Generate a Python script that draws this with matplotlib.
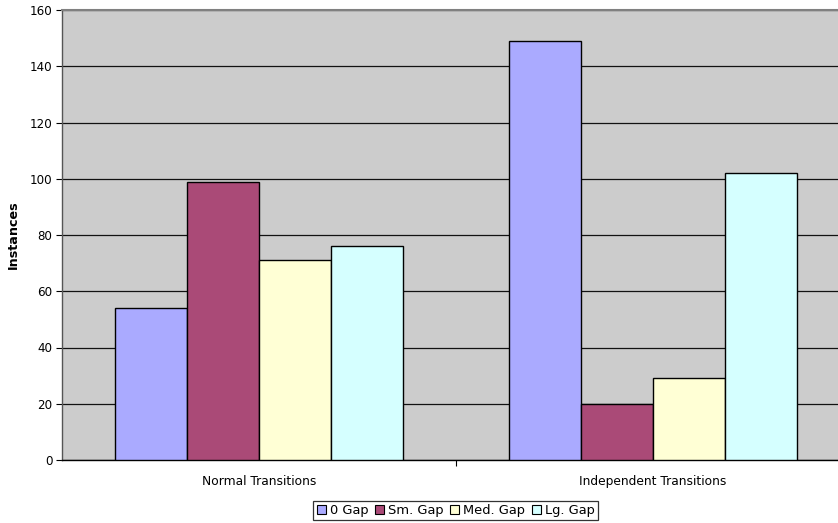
import matplotlib
matplotlib.use("Agg")
import matplotlib.pyplot as plt
from matplotlib.patches import Patch
import numpy as np

categories = ["Normal Transitions", "Independent Transitions"]
series_names = ["0 Gap", "Sm. Gap", "Med. Gap", "Lg. Gap"]
gap0 = [54, 149]
gap_sm = [99, 20]
gap_med = [71, 29]
gap_lg = [76, 102]
series_values = [gap0, gap_sm, gap_med, gap_lg]
colors = ["#AAAAFF", "#AA4A77", "#FFFFD5", "#D5FFFF"]
y_ticks = [0, 20, 40, 60, 80, 100, 120, 140, 160]

plt.rcParams["font.family"] = ["DejaVu Sans"]

W, H = 838, 523
fig = plt.figure(figsize=(W / 100, H / 100), dpi=100)
ax = fig.add_axes([62 / W, (H - 460) / H, (850 - 62) / W, 450 / H])
ax.set_facecolor("#CCCCCC")

x = np.arange(len(categories))
bw = 72 / 394
for i, (vals, col) in enumerate(zip(series_values, colors)):
    ax.bar(x + (i - 1.5) * bw, vals, width=bw, color=col,
           edgecolor="black", linewidth=1.0, zorder=3)

ax.set_xlim(-0.5, len(categories) - 0.5)
ax.set_ylim(0, 160)
ax.set_yticks(y_ticks)
ax.yaxis.grid(True, color="#111111", linewidth=0.9, zorder=1)
ax.set_axisbelow(True)

ax.set_xticks(x)
ax.set_xticklabels(categories, fontsize=8.8)
ax.tick_params(axis="x", which="major", length=0, pad=11)
ax.set_xticks(np.arange(0.5, len(categories) - 0.5, 1), minor=True)
ax.tick_params(axis="x", which="minor", length=4, width=0.8, direction="out")
ax.tick_params(axis="y", length=4, width=0.8, direction="out", labelsize=8.6, pad=3)

for side in ["top", "right"]:
    ax.spines[side].set_color("#808080")
    ax.spines[side].set_linewidth(1.5)
ax.spines["left"].set_color("#555555")
ax.spines["left"].set_linewidth(1.0)
ax.spines["bottom"].set_color("black")
ax.spines["bottom"].set_linewidth(1.0)

ax.set_ylabel("Instances", fontsize=9.2, fontweight="bold")
ax.yaxis.set_label_coords(-(62 - 20) / (850 - 62), (460 - 235) / 450)

handles = [Patch(facecolor=c, edgecolor="black", linewidth=0.8) for c in colors]
leg = fig.legend(handles, series_names, loc="center", ncol=4,
                 bbox_to_anchor=(455.5 / W, 1 - 510.5 / H), fontsize=9.4,
                 frameon=True, fancybox=False, edgecolor="#333333",
                 framealpha=1, borderpad=0.25, handlelength=0.7,
                 handleheight=0.7, handletextpad=0.3, columnspacing=0.5,
                 borderaxespad=0)
leg.get_frame().set_linewidth(0.9)

fig.savefig("out.png", dpi=100)
